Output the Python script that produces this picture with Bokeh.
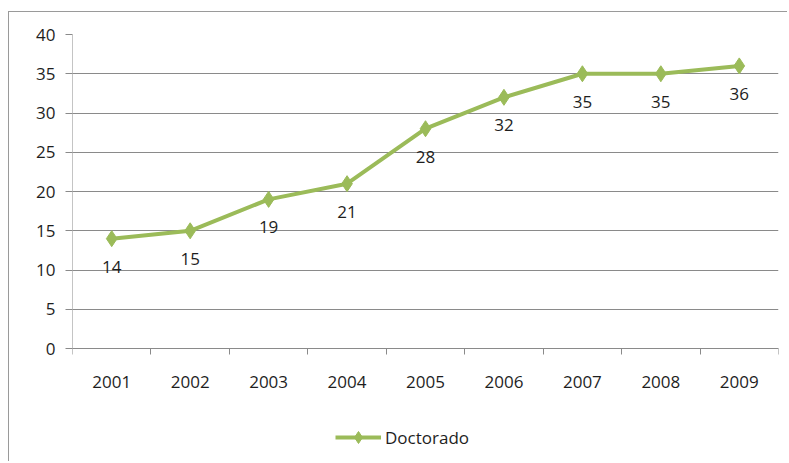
from bokeh.plotting import figure
from bokeh.models import (ColumnDataSource, FixedTicker, Range1d, Legend, LegendItem)
from bokeh.core.properties import value
from bokeh.embed import file_html
from bokeh.resources import INLINE

years = [2001, 2002, 2003, 2004, 2005, 2006, 2007, 2008, 2009]
doctorado = [14, 15, 19, 21, 28, 32, 35, 35, 36]
y_ticks = [0, 5, 10, 15, 20, 25, 30, 35, 40]
series_name = "Doctorado"

GREEN = "#9BBB59"
GRID = "#8a8a8a"
TEXT = "#1e1e1e"
FONT = "Open Sans"

src = ColumnDataSource(dict(x=years, y=doctorado, lbl=[str(v) for v in doctorado]))

# extra room below zero (in data units) to hold axis labels and legend inside the frame
y_pad = 14.0

p = figure(width=779, height=450, output_backend="svg", toolbar_location=None,
           x_range=Range1d(years[0] - 0.5, years[-1] + 0.5),
           y_range=Range1d(y_ticks[0] - y_pad, y_ticks[-1]),
           x_axis_location=None,
           min_border_left=63, min_border_right=10, min_border_top=22, min_border_bottom=4,
           styles={"border-left": "1px solid #9a9a9a", "border-top": "1px solid #9a9a9a",
                   "margin-top": "11px", "margin-left": "8px"})
p.outline_line_color = None
p.background_fill_color = "white"
p.border_fill_color = "white"

from bokeh.models import LinearAxis
xax = LinearAxis(fixed_location=y_ticks[0])
p.add_layout(xax, "below")
xax.ticker = FixedTicker(ticks=years, minor_ticks=[y - 0.5 for y in years] + [years[-1] + 0.5])
xax.major_tick_line_color = None
xax.major_tick_out = 0
xax.major_tick_in = 0
xax.minor_tick_line_color = GRID
xax.minor_tick_out = 6
xax.minor_tick_in = 0
xax.axis_line_color = GRID
xax.major_label_standoff = 21
xax.major_label_text_font = FONT
xax.major_label_text_font_size = "17px"
xax.major_label_text_color = TEXT

p.yaxis.ticker = FixedTicker(ticks=y_ticks)
p.yaxis.minor_tick_line_color = None
p.yaxis.major_tick_line_color = GRID
p.yaxis.major_tick_out = 7
p.yaxis.major_tick_in = 0
p.yaxis.axis_line_color = None
p.yaxis.major_label_standoff = 10
p.yaxis.major_label_text_font = FONT
p.yaxis.major_label_text_font_size = "17px"
p.yaxis.major_label_text_color = TEXT

# y axis line only spanning the value range
p.segment(x0=[years[0] - 0.5], y0=[y_ticks[0]], x1=[years[0] - 0.5], y1=[y_ticks[-1]],
          line_color=GRID, line_width=1)

p.xgrid.grid_line_color = None
p.ygrid.grid_line_color = GRID
p.ygrid.grid_line_width = 1

ln = p.line("x", "y", source=src, line_color=GREEN, line_width=4)
mk = p.scatter("x", "y", source=src, marker="diamond", size=16, fill_color=GREEN, line_color=GREEN)

p.text("x", "y", text="lbl", source=src, text_align="center", text_baseline="middle",
       y_offset=28, text_font=value(FONT), text_font_size="17px", text_color=TEXT)

legend = Legend(items=[LegendItem(label=series_name, renderers=[ln, mk])],
                location=(263, 6), orientation="horizontal",
                label_text_font=FONT, label_text_font_size="17px", label_text_color=TEXT,
                glyph_width=46, glyph_height=30, label_height=30,
                padding=0, margin=0,
                label_standoff=4, border_line_color=None, background_fill_alpha=0)
p.add_layout(legend, "center")

open("out.html", "w").write(file_html(p, INLINE))
